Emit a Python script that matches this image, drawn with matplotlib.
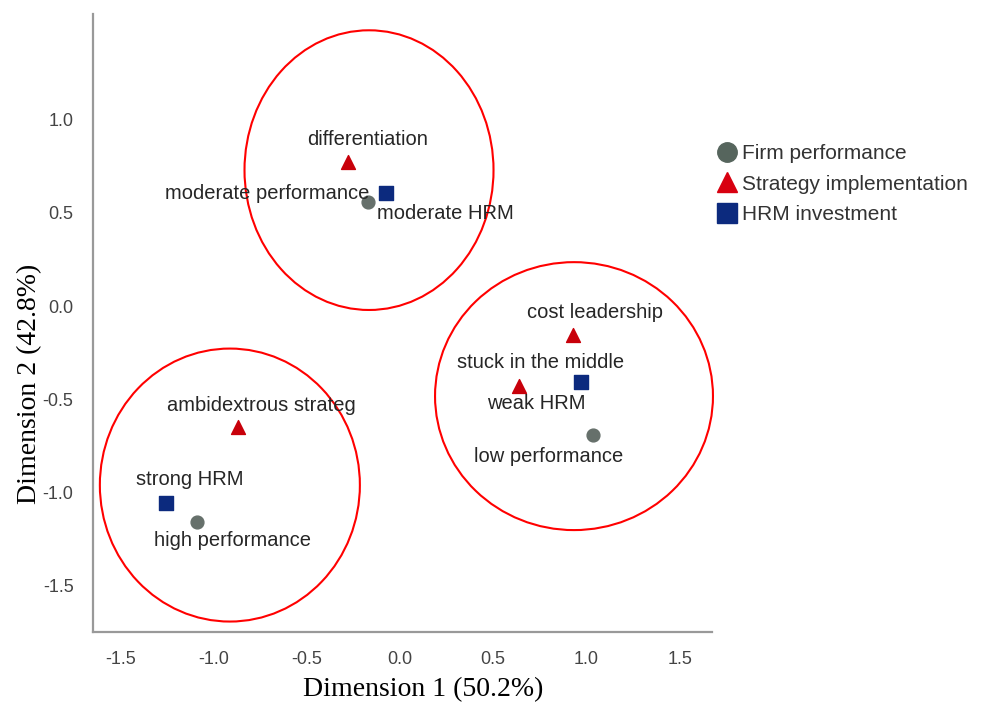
import matplotlib
matplotlib.use("Agg")
import matplotlib.pyplot as plt
from matplotlib.patches import Ellipse
from matplotlib.lines import Line2D

# Category point coordinates
firm_labels = ["moderate performance", "low performance", "high performance"]
firm_x = [-0.172, 1.035, -1.088]
firm_y = [0.558, -0.692, -1.158]

strat_labels = ["differentiation", "cost leadership", "stuck in the middle", "ambidextrous strateg"]
strat_x = [-0.279, 0.928, 0.638, -0.869]
strat_y = [0.772, -0.155, -0.429, -0.649]

hrm_labels = ["moderate HRM", "weak HRM", "strong HRM"]
hrm_x = [-0.075, 0.970, -1.255]
hrm_y = [0.606, -0.408, -1.056]

# label offsets in pixels (dx, dy)
firm_off = [(-101, 9), (-44, -21), (35, -19)]
strat_off = [(20, 23), (22, 22), (22, 24), (23, 22)]
hrm_off = [(59, -20), (-45, -21), (24, 23)]

# grouping circles: centre x, centre y, width, height (data units)
groups = [(-0.166, 0.729, 1.335, 1.50),
          (0.933, -0.483, 1.49, 1.437),
          (-0.912, -0.960, 1.394, 1.464)]

c_firm = "#66706b"
c_strat = "#c8000a"
c_hrm = "#0c2a7e"

fig = plt.figure(figsize=(9.91, 7.07), dpi=100)
ax = fig.add_axes([0.0938, 0.1061, 0.6247, 0.874])

ax.scatter(firm_x, firm_y, s=85, marker="o", color=c_firm, zorder=3)
ax.scatter(strat_x, strat_y, s=100, marker="^", color=c_strat, zorder=3)
ax.scatter(hrm_x, hrm_y, s=100, marker="s", color=c_hrm, zorder=3)

for labels, xs, ys, offs in [(firm_labels, firm_x, firm_y, firm_off),
                             (strat_labels, strat_x, strat_y, strat_off),
                             (hrm_labels, hrm_x, hrm_y, hrm_off)]:
    for lab, x, y, (dx, dy) in zip(labels, xs, ys, offs):
        ax.annotate(lab, (x, y), xytext=(dx, dy), textcoords="offset pixels",
                    ha="center", va="center", fontsize=14.5, color="#262626",
                    family="Liberation Sans", annotation_clip=False)

for cx, cy, w, h in groups:
    ax.add_patch(Ellipse((cx, cy), w, h, fill=False, edgecolor="#ff0000",
                         linewidth=1.5, clip_on=False, zorder=2))

ax.set_xlim(-1.646, 1.673)
ax.set_ylim(-1.748, 1.566)
ax.set_xticks([-1.5, -1.0, -0.5, 0.0, 0.5, 1.0, 1.5])
ax.set_yticks([-1.5, -1.0, -0.5, 0.0, 0.5, 1.0])
ax.set_xticklabels(["-1.5", "-1.0", "-0.5", "0.0", "0.5", "1.0", "1.5"])
ax.set_yticklabels(["-1.5", "-1.0", "-0.5", "0.0", "0.5", "1.0"])
ax.tick_params(length=0, labelsize=13, labelcolor="#444444", pad=14)
for lab in ax.get_xticklabels() + ax.get_yticklabels():
    lab.set_family("Liberation Sans")

for side in ["top", "right"]:
    ax.spines[side].set_visible(False)
for side in ["left", "bottom"]:
    ax.spines[side].set_color("#999999")
    ax.spines[side].set_linewidth(1.6)

fig.text(0.427, 0.024, "Dimension 1 (50.2%)", ha="center", va="center",
         fontsize=20, family="Liberation Serif")
fig.text(0.030, 0.457, "Dimension 2 (42.8%)", ha="center", va="center",
         rotation=90, fontsize=20, family="Liberation Serif")

handles = [
    Line2D([], [], marker="o", linestyle="none", markersize=14, color="#56655d", label="Firm performance"),
    Line2D([], [], marker="^", linestyle="none", markersize=15, color="#d80010", label="Strategy implementation"),
    Line2D([], [], marker="s", linestyle="none", markersize=14, color="#0c2a7e", label="HRM investment"),
]
fig.legend(handles=handles, loc="upper left", bbox_to_anchor=(0.704, 0.823),
           frameon=False, handletextpad=0.25, handlelength=1.0, labelspacing=0.56,
           prop={"family": "Liberation Sans", "size": 15}, labelcolor="#333333")

fig.savefig("out.png", dpi=100)
